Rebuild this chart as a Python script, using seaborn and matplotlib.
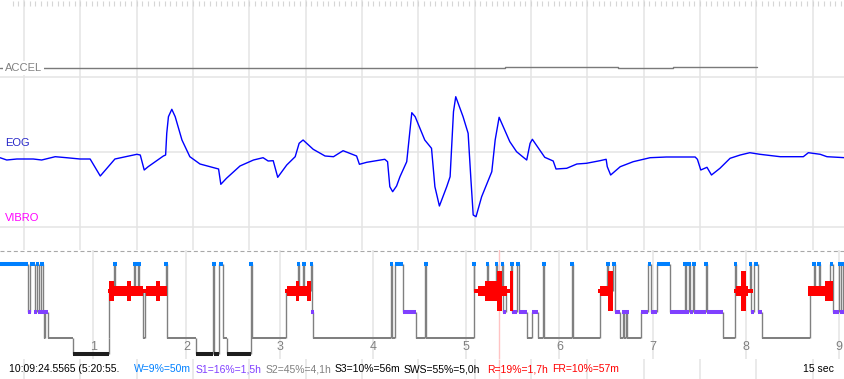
import numpy as np
import matplotlib
matplotlib.use("Agg")
import matplotlib.pyplot as plt
import seaborn as sns

# ---- signal window (15 s) ----
eog_t = [0.00, 0.12, 0.30, 0.59, 0.74, 0.98, 1.18, 1.42, 1.60, 1.78, 2.04, 2.43, 2.49, 2.56, 2.63,
         2.90, 2.94, 2.96, 2.99, 3.05, 3.11, 3.23, 3.37, 3.55, 3.88, 3.92, 4.02, 4.26, 4.50, 4.67,
         4.76, 4.85, 4.93, 5.09, 5.24, 5.31, 5.38, 5.56, 5.77, 5.92, 6.09, 6.33, 6.38, 6.51, 6.83,
         6.88, 6.92, 6.97, 7.04, 7.10, 7.22, 7.31, 7.37, 7.54, 7.66, 7.72, 7.80, 7.93, 7.99, 8.05,
         8.09, 8.22, 8.31, 8.36, 8.40, 8.45, 8.55, 8.73, 8.79, 8.86, 9.05, 9.17, 9.29, 9.35, 9.41,
         9.45, 9.56, 9.67, 9.82, 9.87, 10.06, 10.24, 10.41, 10.65, 10.76, 10.78, 10.84, 11.01, 11.24,
         11.54, 11.83, 12.34, 12.38, 12.44, 12.55, 12.63, 12.78, 12.96, 13.14, 13.31, 13.49, 13.85,
         14.26, 14.35, 14.56, 14.68, 15.00]
eog_v = [-5.7, -8, -7, -7, -8, -4.7, -5.7, -7, -7, -24, -7, -2.3, -3, -18, -14.7,
         -4, -3, 18.7, 35.3, 42.7, 35.3, 12, -4.7, -12, -17, -32.3, -26.3, -14, -8, -5.7,
         -9, -8.7, -25.3, -13, -4.7, 8.7, 12, 2.7, -4, -4.7, 1.3, -4, -12.3, -10.3, -7.3,
         -9.7, -34.7, -39.7, -34, -24.7, -9.7, 39.3, 35.3, 12, 3.7, -34.7, -54, -34.7, -24.7, 40.3,
         55.3, 35.3, 18.7, -28, -63, -64.7, -44.7, -19.7, 12, 34.7, 10.3, 0.3, -5.3, -8, 8.7,
         12.7, 3.7, -5.3, -9, -17, -16.3, -12, -11.3, -8.7, -7.3, -14.7, -23, -14.7, -9.7,
         -5.7, -5, -5, -7.3, -18, -15.3, -23, -16.3, -6.3, -3, -0.7, -2.3, -4.7,
         -4.7, -0.7, -2.3, -4.7, -5.7]

accel_t = [0.0, 8.96, 10.97, 11.95, 13.44]
accel_v = [0, 1, 0, 1, 1]

channels = ["ACCEL", "EOG", "VIBRO"]

# ---- hypnogram (hours) ----
hyp_t = [0.000, 0.303, 0.325, 0.372, 0.394, 0.415, 0.440, 0.461, 0.470, 0.483, 0.518, 0.780,
         1.164, 1.172, 1.226, 1.236, 1.440, 1.451, 1.483, 1.494, 1.530, 1.558, 1.777, 1.788,
         2.099, 2.287, 2.298, 2.352, 2.388, 2.438, 2.688, 2.699, 3.070, 3.196, 3.206, 3.253,
         3.263, 3.338, 3.346, 3.357, 4.190, 4.204, 4.233, 4.318, 4.464, 4.561, 4.572, 5.080,
         5.088, 5.223, 5.233, 5.319, 5.330, 5.383, 5.399, 5.423, 5.483, 5.494, 5.541, 5.566,
         5.655, 5.708, 5.773, 5.826, 5.837, 6.131, 6.142, 6.434, 6.513, 6.523, 6.574, 6.592,
         6.649, 6.681, 6.692, 6.718, 6.727, 6.874, 6.954, 6.976, 7.049, 7.182, 7.343, 7.353,
         7.386, 7.396, 7.435, 7.446, 7.568, 7.579, 7.757, 7.882, 7.893, 8.043, 8.054, 8.089,
         8.126, 8.172, 8.683, 8.726, 8.737, 8.780, 8.790, 8.901, 8.933, 9.001, 9.019, 9.040]
hyp_stage = ["W", "S1", "W", "S1", "W", "S1", "W", "S1", "S2", "S1", "S2", "S3",
             "S2", "R", "W", "R", "W", "R", "W", "R", "S2", "R", "W", "S2",
             "S3", "W", "S3", "W", "S2", "S3", "W", "S2", "R", "W", "R", "W",
             "R", "W", "S1", "S2", "W", "S2", "W", "S1", "S2", "W", "S2", "W",
             "R", "W", "R", "W", "R", "W", "S1", "R", "W", "S1", "W", "S1",
             "S2", "S1", "S2", "W", "S2", "W", "S2", "R", "W", "R", "W", "S1",
             "S2", "S1", "S2", "S1", "S2", "S1", "W", "S1", "W", "S1", "W", "S1",
             "W", "S1", "W", "S1", "W", "S1", "S2", "W", "R", "W", "S1", "W",
             "S1", "S2", "R", "W", "R", "W", "R", "W", "S1", "W", "S1", "W"]
hyp_end = 9.062

# REM eye-movement density pieces
rem_t0 = [1.161, 1.172, 1.226, 1.359, 1.402, 1.530, 1.566, 1.673, 1.719,
          3.060, 3.078, 3.171, 3.203, 3.295,
          5.086, 5.126, 5.201, 5.333, 5.380, 5.434, 5.469,
          6.416, 6.434, 6.525,
          7.874, 7.896, 7.946, 7.997, 8.025,
          8.665, 8.850]
rem_t1 = [1.172, 1.226, 1.359, 1.402, 1.530, 1.566, 1.673, 1.719, 1.788,
          3.078, 3.171, 3.203, 3.295, 3.338,
          5.126, 5.201, 5.333, 5.380, 5.434, 5.469, 5.505,
          6.434, 6.525, 6.577,
          7.896, 7.946, 7.997, 8.025, 8.072,
          8.850, 8.930]
rem_lvl = [1, 3, 2, 3, 2, 1, 2, 3, 2,
           1, 2, 3, 2, 3,
           1, 2, 3, 4, 2, 1, 4,
           1, 2, 4,
           1, 2, 4, 2, 1,
           2, 3]

cursor_clock = "10:09:24.5565"
cursor_h = 5 + 20 / 60 + 55 / 3600
stat_labels = ["W=9%=50m", "S1=16%=1,5h", "S2=45%=4,1h", "S3=10%=56m",
               "SWS=55%=5,0h", "R=19%=1,7h", "FR=10%=57m"]
stat_colors = ["#0080ff", "#8040ff", "#808080", "#000000", "#000000", "#ff0000", "#ff0000"]
stat_x = [134, 196, 266, 335, 404, 487, 552]

# ---- styling ----
sns.set_style("white")
plt.rcParams['font.family'] = ['Liberation Sans', 'DejaVu Sans']

W, H = 845, 379
sec_px = W / 15.0
hour_px = 93.25
grid_c = "#e4e4e4"
stage_y = {"W": 264, "R": 290.7, "S1": 312, "S2": 338, "S3": 354}
stage_c = {"W": "#0080ff", "S1": "#8040ff", "S2": "#808080", "S3": "#1e1e1e", "R": "#ff0000"}
stage_lw = {"W": 2.9, "S1": 2.9, "S2": 1.45, "S3": 2.9}
rem_px = {1: 4, 2: 10, 3: 20, 4: 40}

fig = plt.figure(figsize=(W / 100, H / 100), dpi=100)

# signal panel, y in pixel rows
ax = fig.add_axes([0, 0, 1, 1])
ax.set_xlim(0, 15)
ax.set_ylim(H, 0)
ax.axis("off")

off = 24 / sec_px
for s in np.arange(off, 15, 1.0):
    ax.vlines(s, 0, H, color=grid_c, lw=1.1, zorder=0)
for s in np.arange(off - 0.2, 15, 0.1):
    ax.vlines(s, 1, 6, color="#d6d6d6", lw=0.8, zorder=0)
ax.hlines([77, 152, 227], 0, 15, color=grid_c, lw=1.1, zorder=0)

sns.lineplot(x=accel_t, y=68.3 - np.array(accel_v), ax=ax, color="#7a7a7a",
             lw=1.0, drawstyle="steps-post")
sns.lineplot(x=eog_t, y=152 - np.array(eog_v), ax=ax, color="#0000ff", lw=1.0)

ax.text(5 / sec_px, 68, channels[0], color="#808080", fontsize=8, va="center",
        bbox=dict(fc="white", ec="none", pad=1.5))
ax.text(5 / sec_px, 143, channels[1], color="#2828c8", fontsize=8, va="center")
ax.text(5 / sec_px, 218, channels[2], color="#ff00ff", fontsize=8, va="center")

ax.vlines(cursor_h * hour_px / sec_px, 359, H, color="#ffc4c4", lw=1)

# hypnogram panel
axh = fig.add_axes([0, (H - 359) / H, 1, (359 - 250) / H])
axh.set_zorder(2)
axh.set_facecolor("white")
axh.set_xlim(0, W / hour_px)
axh.set_ylim(359, 250)
axh.set_xticks([])
axh.set_yticks([])
for sp in axh.spines.values():
    sp.set_visible(False)

axh.vlines(range(1, 10), 250, 359, color=grid_c, lw=1.1, zorder=0)
axh.axvline(cursor_h, color="#ffc4c4", lw=1, zorder=0.5)
axh.axhline(250.8, color="#a8a8a8", lw=0.8, ls=(0, (3.6, 2.4)))
for h in range(1, 10):
    axh.text(h, 347, str(h), ha="center", va="center", color="#808080", fontsize=9)

ends = hyp_t[1:] + [hyp_end]
for i in range(1, len(hyp_t)):
    axh.vlines(hyp_t[i], stage_y[hyp_stage[i - 1]], stage_y[hyp_stage[i]],
               color="#808080", lw=1.0, zorder=1)

minw = 3.5 / hour_px
for t0, t1, st in zip(hyp_t, ends, hyp_stage):
    if st == "R":
        continue
    if t1 - t0 < minw and st != "S2":
        c = (t0 + t1) / 2
        t0, t1 = c - minw / 2, c + minw / 2
    axh.hlines(stage_y[st], t0, t1, color=stage_c[st], lw=stage_lw[st], zorder=2)

th = np.array([rem_px[k] for k in rem_lvl])
axh.bar(rem_t0, th, width=np.array(rem_t1) - np.array(rem_t0),
        bottom=stage_y["R"] - th / 2, align="edge", color="#ff0000", lw=0, zorder=3)

# status line
yy = 1 - 369 / H
fig.text(9 / W, yy, cursor_clock + " (5:20:55.", color="black", fontsize=7.5, va="center")
for lab, col, x in zip(stat_labels, stat_colors, stat_x):
    fig.text(x / W, yy, lab, color=col, fontsize=7.5, va="center")
fig.text(803 / W, yy, "15 sec", color="black", fontsize=7.5, va="center")

fig.savefig("out.png", dpi=100, facecolor="white")
